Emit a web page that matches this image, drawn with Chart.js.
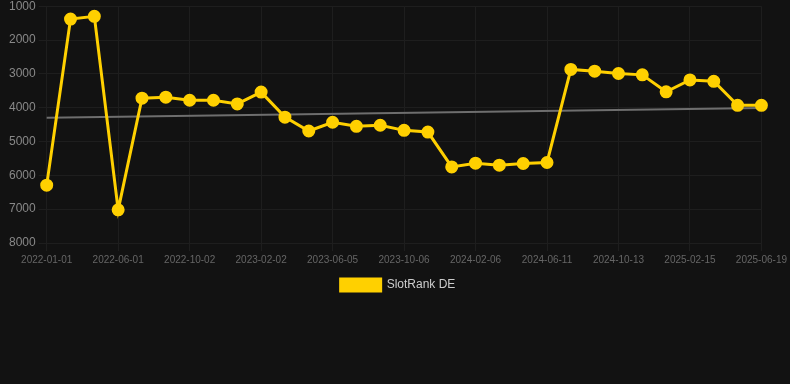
<!DOCTYPE html>
<html>
<head>
<meta charset="utf-8">
<script src="https://cdn.jsdelivr.net/npm/chart.js@4/dist/chart.umd.min.js"></script>
<style>
  html, body { margin: 0; padding: 0; background: #121212; overflow: hidden; }
  #wrap { width: 790px; height: 305px; position: relative; margin-top: -4px; }
</style>
</head>
<body>
<div id="wrap"><canvas id="c"></canvas></div>
<script>
const dates = [
  '2022-01-01','2022-02-20','2022-04-11','2022-06-01','2022-07-12','2022-08-22',
  '2022-10-02','2022-11-12','2022-12-23','2023-02-02','2023-03-15','2023-04-25',
  '2023-06-05','2023-07-16','2023-08-26','2023-10-06','2023-11-16','2023-12-27',
  '2024-02-06','2024-03-19','2024-04-30','2024-06-11','2024-07-22','2024-09-01',
  '2024-10-13','2024-11-23','2025-01-04','2025-02-15','2025-03-28','2025-05-08',
  '2025-06-19'
];
const rankDE = [
  6290, 1380, 1300, 7020, 3720, 3690,
  3780, 3780, 3890, 3540, 4280, 4690,
  4430, 4550, 4520, 4670, 4720, 5750,
  5640, 5700, 5650, 5620, 2870, 2920,
  2990, 3030, 3530, 3180, 3220, 3930,
  3930
];
const trendStart = 4300;
const trendEnd = 4010;
const yTicks = [1000, 2000, 3000, 4000, 5000, 6000, 7000, 8000];
const labelEvery = 3;

const trend = dates.map((d, i) => i === 0 ? trendStart : (i === dates.length - 1 ? trendEnd : null));

new Chart(document.getElementById('c'), {
  type: 'line',
  data: {
    labels: dates,
    datasets: [
      {
        label: 'SlotRank DE',
        data: rankDE,
        borderColor: '#ffd000',
        backgroundColor: '#ffd000',
        borderWidth: 3,
        pointRadius: 5,
        pointHoverRadius: 5,
        pointBackgroundColor: '#ffd000',
        pointBorderColor: '#ffd000',
        tension: 0,
        order: 1
      },
      {
        label: 'trend',
        data: trend,
        borderColor: '#6e6e6e',
        borderWidth: 2,
        pointRadius: 0,
        spanGaps: true,
        fill: false,
        order: 2
      }
    ]
  },
  options: {
    responsive: true,
    maintainAspectRatio: false,
    animation: false,
    layout: { padding: { left: 6, right: 0, top: 0, bottom: 0 } },
    plugins: {
      legend: {
        position: 'bottom',
        labels: {
          color: '#cccccc',
          font: { family: 'Liberation Sans, Arial, sans-serif', size: 12 },
          boxWidth: 40,
          boxHeight: 12,
          filter: (item) => item.text === 'SlotRank DE'
        }
      },
      tooltip: { enabled: false }
    },
    scales: {
      x: {
        offset: false,
        grid: { color: '#1e1e1e', tickLength: 8 },
        border: { display: false },
        ticks: {
          autoSkip: false,
          maxRotation: 0,
          minRotation: 0,
          color: '#666666',
          font: { family: 'Liberation Sans, Arial, sans-serif', size: 10 },
          callback: function(value, index) {
            return index % labelEvery === 0 ? this.getLabelForValue(value) : null;
          }
        }
      },
      y: {
        reverse: true,
        min: yTicks[0],
        max: yTicks[yTicks.length - 1],
        afterBuildTicks: (axis) => { axis.ticks = yTicks.map(v => ({ value: v })); },
        grid: { color: '#1e1e1e', tickLength: 8 },
        border: { display: false },
        ticks: {
          color: '#888888',
          font: { family: 'Liberation Sans, Arial, sans-serif', size: 12 },
          padding: 3,
          callback: (v) => String(v)
        }
      }
    }
  }
});
</script>
</body>
</html>
